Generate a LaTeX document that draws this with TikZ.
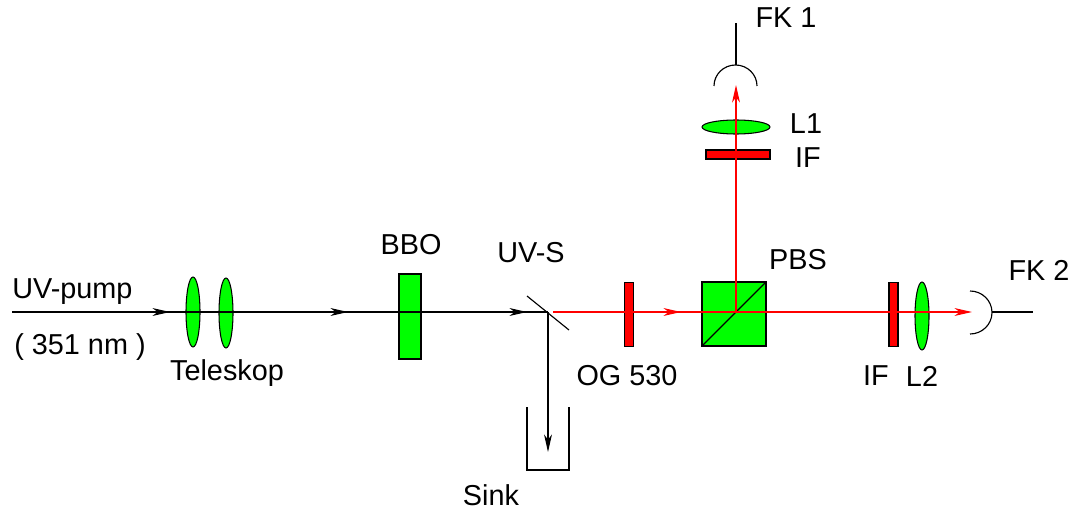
\documentclass[tikz,border=0pt]{standalone}
\usepackage{fontspec}
\setmainfont{Liberation Sans}
\usetikzlibrary{arrows.meta,shapes.geometric}

\tikzset{
        label text/.style={font=\fontsize{16.4}{18}\selectfont, inner sep=0pt},
        green lens/.style={draw=black, fill=green, ellipse, inner sep=0pt, line width=0.6pt},
        green block/.style={draw=black, fill=green, rectangle, inner sep=0pt, line width=0.6pt},
        red filter/.style={draw=black, fill=red, rectangle, inner sep=0pt, line width=0.6pt},
        uv beam/.style={black, line width=0.65pt, -{Stealth[length=10pt,width=4.5pt,inset=3pt]}},
        red beam/.style={red, line width=0.65pt, -{Stealth[length=10pt,width=4.5pt,inset=3pt]}},
        wire/.style={black, line width=0.65pt}
}

\begin{document}
\begin{tikzpicture}[x=0.02cm, y=-0.02cm]
        \useasboundingbox (0, 0) rectangle (1072, 510);

        \node[green lens, minimum width=14*0.02cm, minimum height=70*0.02cm] (lens a) at (193, 312) {};
        \node[green lens, minimum width=14*0.02cm, minimum height=70*0.02cm] (lens b) at (226, 313) {};
        \node[green block, minimum width=22*0.02cm, minimum height=85*0.02cm] (bbo) at (410, 316.5) {};
        \node[red filter, minimum width=9*0.02cm, minimum height=64*0.02cm] (og) at (629, 314.5) {};
        \node[green block, minimum width=64*0.02cm, minimum height=64*0.02cm] (pbs) at (734, 314) {};
        \node[red filter, minimum width=9*0.02cm, minimum height=64*0.02cm] (if b) at (893.5, 314.5) {};
        \node[green lens, minimum width=14*0.02cm, minimum height=68*0.02cm] (lens d) at (922, 316) {};
        \node[red filter, minimum width=64*0.02cm, minimum height=9*0.02cm] (if a) at (738, 154.5) {};
        \node[green lens, minimum width=68*0.02cm, minimum height=14*0.02cm] (lens c) at (736, 127) {};

        \draw[wire] (pbs.south west) -- (pbs.north east);

        \coordinate (pump) at (12, 312);
        \coordinate (tip a) at (170, 312);
        \coordinate (tip b) at (348, 312);
        \coordinate (tip c) at (527, 312);
        \coordinate (split) at (548, 312);
        \coordinate (split end) at (553, 312);
        \coordinate (tip d) at (681, 312);
        \coordinate (tip e) at (972, 312);
        \coordinate (cross) at (736, 312);
        \coordinate (tip f) at (736, 85);
        \coordinate (tip g) at (548, 452);

        \coordinate (mirror a) at (527, 296);
        \coordinate (mirror b) at (569, 330);
        \coordinate (sink a) at (527, 407);
        \coordinate (sink b) at (527, 470);
        \coordinate (sink c) at (569, 470);
        \coordinate (sink d) at (569, 407);

        \draw[wire] (pump) -- (split);
        \draw[uv beam] (pump) -- (tip a);
        \draw[uv beam] (tip a) -- (tip b);
        \draw[uv beam] (tip b) -- (tip c);
        \draw[uv beam] (split) -- (tip g);
        \draw[wire] (mirror a) -- (mirror b);
        \draw[wire] (sink a) -- (sink b) -- (sink c) -- (sink d);

        \draw[red, line width=0.65pt] (split end) -- (cross);
        \draw[red beam] (split end) -- (tip d);
        \draw[red beam] (cross) -- (tip e);
        \draw[red beam] (cross) -- (tip f);

        \coordinate (fk a) at (714, 86);
        \coordinate (fk a top) at (736, 65);
        \coordinate (fk a end) at (736, 23);
        \coordinate (fk b) at (970, 291);
        \coordinate (fk b mid) at (992, 312);
        \coordinate (fk b end) at (1033, 312);
        \draw[wire] (fk a) arc[start angle=180, end angle=0, x radius=21.5, y radius=-21];
        \draw[wire] (fk a top) -- (fk a end);
        \draw[wire] (fk b) arc[start angle=90, end angle=-90, x radius=22, y radius=-21.5];
        \draw[wire] (fk b mid) -- (fk b end);

        \node[label text, anchor=west] (pump label) at (12, 292) {UV-pump};
        \node[label text] (wave label) at (80, 347) {( 351 nm )};
        \node[label text] (tele label) at (227, 373) {Teleskop};
        \node[label text] (bbo label) at (411, 245) {BBO};
        \node[label text] (uvs label) at (531, 253) {UV-S};
        \node[label text] (og label) at (627, 376) {OG 530};
        \node[label text] (pbs label) at (798, 260) {PBS};
        \node[label text] (if b label) at (876, 376) {IF};
        \node[label text] (lens d label) at (922, 376) {L2};
        \node[label text] (fk b label) at (1039, 270) {FK 2};
        \node[label text] (sink label) at (491, 495) {Sink};
        \node[label text] (fk a label) at (786, 18) {FK 1};
        \node[label text] (lens c label) at (806, 124) {L1};
        \node[label text] (if a label) at (808, 158) {IF};
\end{tikzpicture}
\end{document}
